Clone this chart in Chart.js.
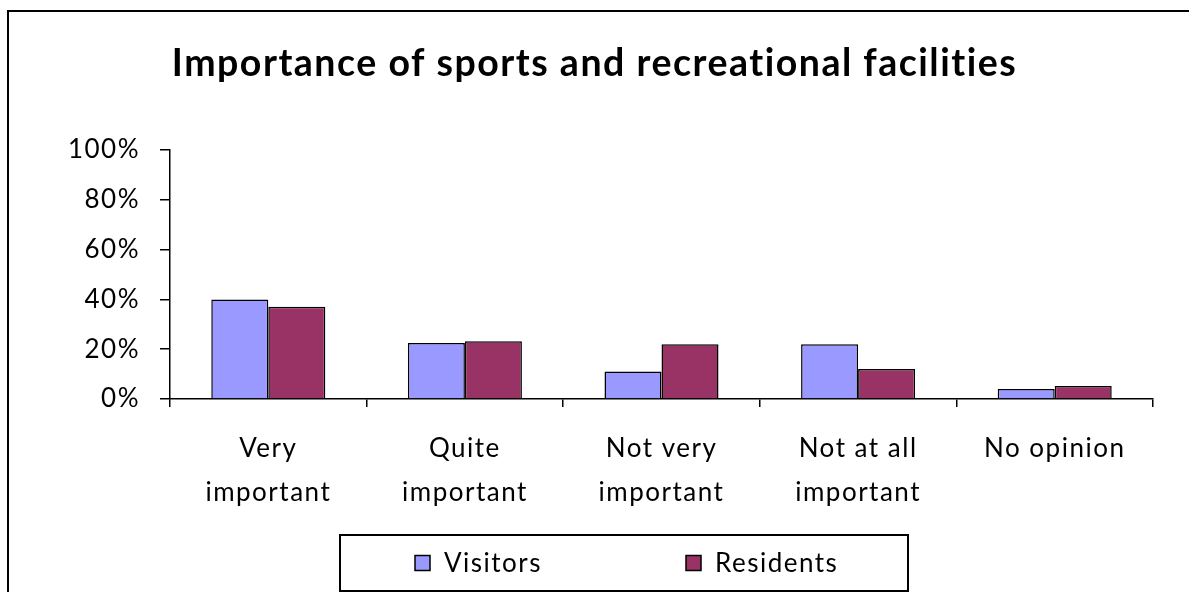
<!DOCTYPE html>
<html>
<head>
<meta charset="utf-8">
<script src="https://cdn.jsdelivr.net/npm/chart.js@4"></script>
<style>
  body { margin: 0; background: #fff; }
  #wrap { position: relative; width: 1189px; height: 592px; overflow: hidden; }
  #frame { position: absolute; left: 7px; top: 10px; width: 1200px; height: 600px; border: 2px solid #000; }
  canvas { position: absolute; left: 0; top: 0; }
</style>
</head>
<body>
<div id="wrap">
  <div id="frame"></div>
  <canvas id="facilitiesChart" width="1189" height="592"></canvas>
</div>
<script>
const categories = [
  ['Very', 'important'],
  ['Quite', 'important'],
  ['Not very', 'important'],
  ['Not at all', 'important'],
  'No opinion'
];
const visitors = [40, 22.5, 11, 22, 4];
const residents = [37, 23.2, 22, 12, 5.2];
const yTicks = [0, 20, 40, 60, 80, 100];

const FONT = 'Lato, "Open Sans", sans-serif';
const SPACING = '1.5px';

// canvas letter spacing so labels get the wide look of the original typeface
const spacingPlugin = {
  id: 'spacing',
  beforeLayout(chart) { chart.ctx.letterSpacing = SPACING; },
  beforeDraw(chart) { chart.ctx.letterSpacing = SPACING; }
};

// boxed legend under the axis
const boxLegend = {
  id: 'boxLegend',
  afterDraw(chart) {
    const ctx = chart.ctx;
    const itemX = [415, 686];
    const midY = 563;
    ctx.save();
    ctx.letterSpacing = SPACING;
    ctx.strokeStyle = '#000';
    ctx.lineWidth = 2;
    ctx.strokeRect(340, 535, 568, 56);
    ctx.font = '26px ' + FONT;
    ctx.textBaseline = 'middle';
    ctx.fillStyle = '#000';
    chart.data.datasets.forEach((ds, i) => {
      const x = itemX[i];
      ctx.fillStyle = ds.backgroundColor;
      ctx.fillRect(x, midY - 7.5, 15, 15);
      ctx.lineWidth = 1.5;
      ctx.strokeRect(x, midY - 7.5, 15, 15);
      ctx.fillStyle = '#000';
      ctx.fillText(ds.label, x + 29, midY + 1);
    });
    ctx.restore();
  }
};

new Chart(document.getElementById('facilitiesChart'), {
  type: 'bar',
  data: {
    labels: categories,
    datasets: [{
      label: 'Visitors',
      data: visitors,
      backgroundColor: '#9999FF',
      borderColor: '#000',
      borderWidth: 1.5
    }, {
      label: 'Residents',
      data: residents,
      backgroundColor: '#993366',
      borderColor: '#000',
      borderWidth: 1.5
    }]
  },
  options: {
    responsive: false,
    animation: false,
    events: [],
    categoryPercentage: 0.58,
    barPercentage: 1.0,
    layout: { padding: { left: 36, right: 36, top: 0, bottom: 0 } },
    plugins: {
      legend: { display: false },
      tooltip: { enabled: false },
      title: {
        display: true,
        text: 'Importance of sports and recreational facilities',
        color: '#000',
        font: { family: FONT, size: 37.5, weight: 'bold', lineHeight: 1.2 },
        padding: { top: 41, bottom: 64 }
      }
    },
    scales: {
      x: {
        offset: true,
        grid: { display: true, offset: true, drawOnChartArea: false, drawTicks: true, tickLength: 8, color: '#000', lineWidth: 1.5 },
        border: { display: true, color: '#000', width: 1.5 },
        ticks: {
          autoSkip: false,
          maxRotation: 0,
          padding: 19,
          color: '#000',
          font: { family: FONT, size: 26, lineHeight: 1.72 }
        },
        afterFit(scale) { scale.height = 193; }
      },
      y: {
        min: 0,
        max: 100,
        afterBuildTicks(scale) { scale.ticks = yTicks.map(v => ({ value: v })); },
        grid: { display: true, drawOnChartArea: false, drawTicks: true, tickLength: 10, color: '#000', lineWidth: 1.5 },
        border: { display: true, color: '#000', width: 1.5 },
        ticks: {
          padding: 20,
          color: '#000',
          font: { family: FONT, size: 26 },
          callback: v => v + '%'
        },
        afterFit(scale) { scale.width = 134; }
      }
    }
  },
  plugins: [spacingPlugin, boxLegend]
});
</script>
</body>
</html>
